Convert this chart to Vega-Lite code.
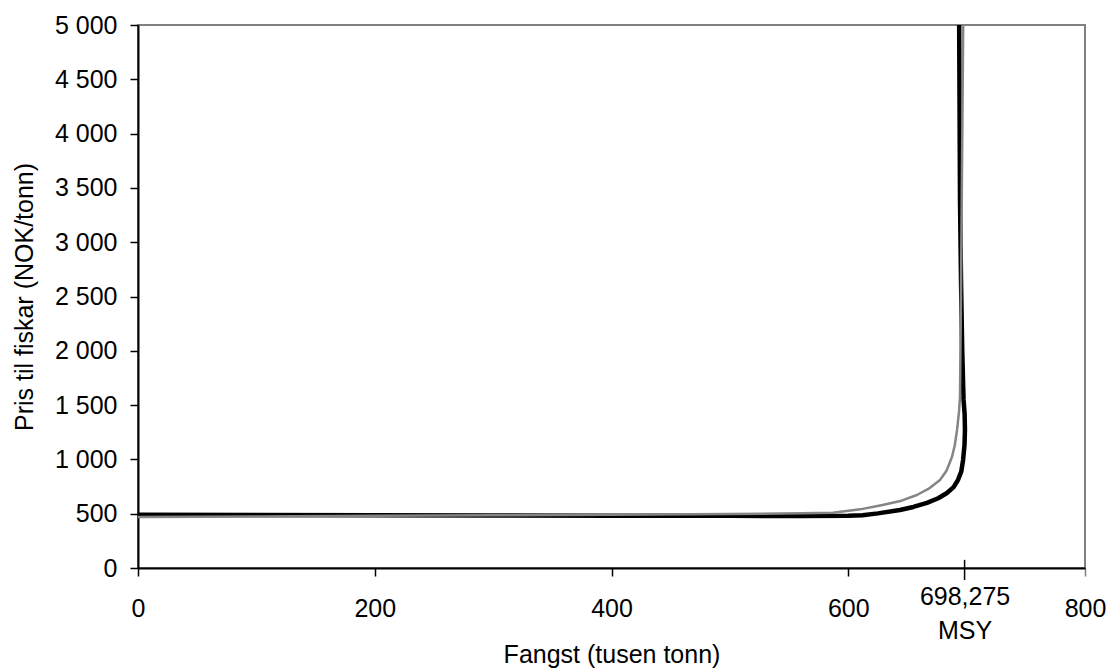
{
  "$schema": "https://vega.github.io/schema/vega-lite/v6.json",
  "width": 947,
  "height": 543,
  "autosize": {"type": "none"},
  "padding": {"left": 138, "top": 25, "right": 24, "bottom": 100},
  "background": "white",
  "config": {
    "view": {"stroke": "#808080", "strokeWidth": 2},
    "axis": {
      "labelFont": "Liberation Sans",
      "labelFontSize": 25,
      "labelColor": "black",
      "titleFont": "Liberation Sans",
      "titleFontSize": 25,
      "titleFontWeight": "normal",
      "titleColor": "black",
      "grid": false,
      "domainColor": "black",
      "domainWidth": 2,
      "tickColor": "black",
      "tickWidth": 1.5,
      "tickSize": 8
    }
  },
  "resolve": {"axis": {"x": "independent"}},
  "layer": [
    {
      "data": {
        "values": [
          {"i": 0, "x": 0, "y": 490},
          {"i": 1, "x": 100, "y": 488},
          {"i": 2, "x": 200, "y": 486},
          {"i": 3, "x": 300, "y": 484},
          {"i": 4, "x": 400, "y": 482},
          {"i": 5, "x": 500, "y": 480},
          {"i": 6, "x": 560, "y": 478},
          {"i": 7, "x": 600, "y": 480},
          {"i": 8, "x": 612, "y": 486},
          {"i": 9, "x": 625, "y": 503},
          {"i": 10, "x": 643.7, "y": 534},
          {"i": 11, "x": 655, "y": 562},
          {"i": 12, "x": 666.5, "y": 599},
          {"i": 13, "x": 676, "y": 642},
          {"i": 14, "x": 683.4, "y": 691},
          {"i": 15, "x": 689, "y": 745},
          {"i": 16, "x": 692.7, "y": 810},
          {"i": 17, "x": 695.5, "y": 890},
          {"i": 18, "x": 697, "y": 994},
          {"i": 19, "x": 698.2, "y": 1130},
          {"i": 20, "x": 698.6, "y": 1271},
          {"i": 21, "x": 698.3, "y": 1420},
          {"i": 22, "x": 697.4, "y": 1550},
          {"i": 23, "x": 696.3, "y": 2000},
          {"i": 24, "x": 695.3, "y": 2620},
          {"i": 25, "x": 694.4, "y": 3390},
          {"i": 26, "x": 693.7, "y": 5000}
        ]
      },
      "mark": {"type": "line", "color": "black", "strokeWidth": 4.5, "strokeJoin": "round"},
      "encoding": {
        "x": {
          "field": "x",
          "type": "quantitative",
          "scale": {"domain": [0, 800], "nice": false, "zero": false},
          "axis": {
            "orient": "bottom",
            "values": [0, 200, 400, 600, 800],
            "title": "Fangst (tusen tonn)",
            "titleY": 94,
            "titleBaseline": "alphabetic",
            "labelPadding": 20,
            "labelFlush": false,
            "tickColor": {"condition": {"test": "datum.value == 800", "value": "#808080"}, "value": "black"}
          }
        },
        "y": {
          "field": "y",
          "type": "quantitative",
          "scale": {"domain": [0, 5000], "nice": false},
          "axis": {
            "values": [0, 500, 1000, 1500, 2000, 2500, 3000, 3500, 4000, 4500, 5000],
            "labelExpr": "replace(format(datum.value, ','), ',', ' ')",
            "labelPadding": 13,
            "title": "Pris til fiskar (NOK/tonn)",
            "titlePadding": 17
          }
        },
        "order": {"field": "i", "type": "quantitative"}
      }
    },
    {
      "data": {
        "values": [
          {"i": 0, "x": 0, "y": 470},
          {"i": 1, "x": 100, "y": 475},
          {"i": 2, "x": 200, "y": 480},
          {"i": 3, "x": 300, "y": 485},
          {"i": 4, "x": 400, "y": 490},
          {"i": 5, "x": 500, "y": 497},
          {"i": 6, "x": 560, "y": 504},
          {"i": 7, "x": 587, "y": 508},
          {"i": 8, "x": 610, "y": 540},
          {"i": 9, "x": 629, "y": 580},
          {"i": 10, "x": 645, "y": 620},
          {"i": 11, "x": 658, "y": 672},
          {"i": 12, "x": 668, "y": 730},
          {"i": 13, "x": 677.5, "y": 810},
          {"i": 14, "x": 683, "y": 895},
          {"i": 15, "x": 687.6, "y": 1022},
          {"i": 16, "x": 690, "y": 1130},
          {"i": 17, "x": 691.9, "y": 1271},
          {"i": 18, "x": 693.5, "y": 1430},
          {"i": 19, "x": 694.4, "y": 1575},
          {"i": 20, "x": 695.3, "y": 2620},
          {"i": 21, "x": 696.2, "y": 3800},
          {"i": 22, "x": 697.1, "y": 5000}
        ]
      },
      "mark": {"type": "line", "color": "#858585", "strokeWidth": 2.5, "strokeJoin": "round"},
      "encoding": {
        "x": {"field": "x", "type": "quantitative", "axis": null},
        "y": {"field": "y", "type": "quantitative"},
        "order": {"field": "i", "type": "quantitative"}
      }
    },
    {
      "data": {"values": [{"x": 698.275, "y": -110, "y2": 75}]},
      "mark": {"type": "rule", "color": "black", "strokeWidth": 1.5},
      "encoding": {
        "x": {
          "field": "x",
          "type": "quantitative",
          "axis": {
            "orient": "bottom",
            "values": [698.275],
            "domain": false,
            "ticks": false,
            "title": null,
            "labelExpr": "['698,275', 'MSY']",
            "labelLineHeight": 34,
            "labelPadding": 16,
            "labelFlush": false
          }
        },
        "y": {"field": "y", "type": "quantitative"},
        "y2": {"field": "y2"}
      }
    }
  ]
}
